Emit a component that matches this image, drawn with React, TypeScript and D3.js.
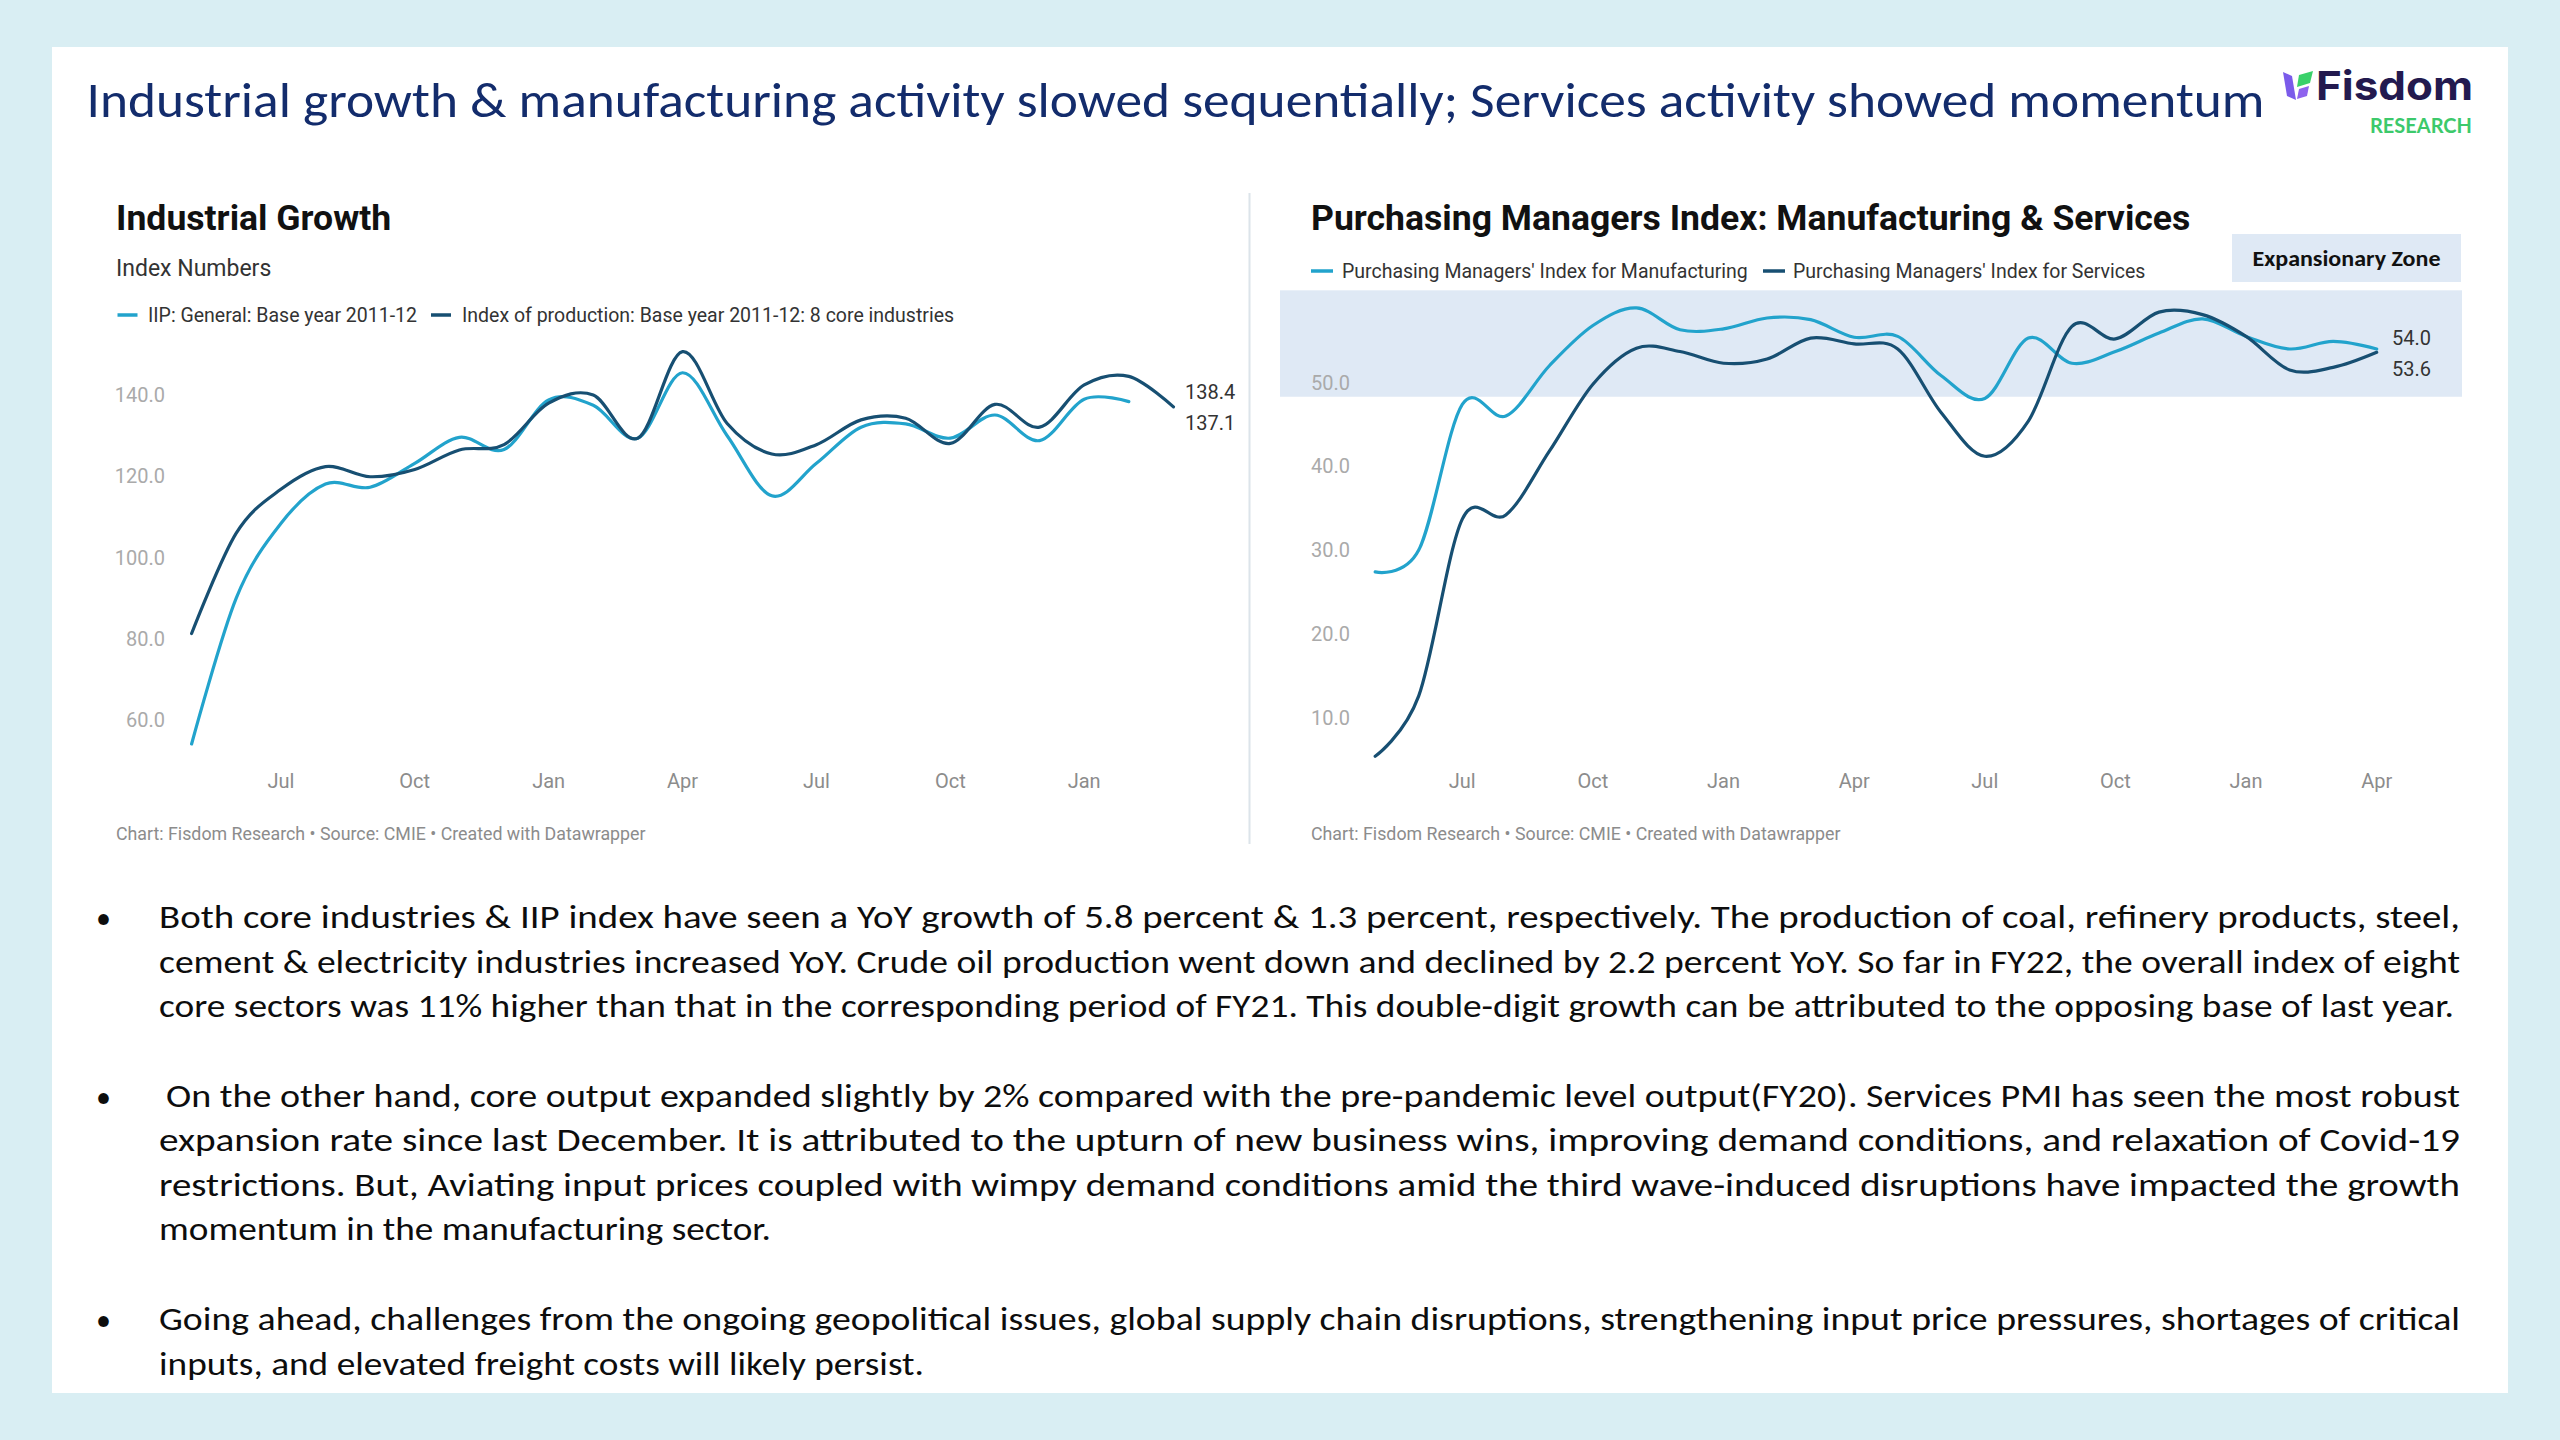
import React from 'react';
import * as d3 from 'd3';

// ---------- DATA ----------
// Left chart: Apr 2020 .. (index 0 = Apr 2020)
const iipValues = [54.1, 90.0, 108.4, 118.1, 117.3, 123.2, 129.6, 126.6, 138.8, 137.5, 129.4, 145.5, 130.0, 115.2, 123.2, 132.1, 132.9, 129.4, 135.1, 128.8, 139.0, 138.4];
const coreValues = [81.3, 106.0, 116.8, 122.4, 119.9, 121.7, 126.5, 127.8, 138.0, 140.0, 129.4, 150.7, 133.0, 125.5, 127.8, 133.9, 134.3, 128.1, 137.7, 132.1, 142.5, 144.6, 137.1];
const leftTickIdx = [2, 5, 8, 11, 14, 17, 20];
const leftTickLabels = ['Jul', 'Oct', 'Jan', 'Apr', 'Jul', 'Oct', 'Jan'];
const leftYTicks = [60, 80, 100, 120, 140];
const leftSeriesNames = ['IIP: General: Base year 2011-12', 'Index of production: Base year 2011-12: 8 core industries'];

// Right chart: Apr 2020 .. Mar 2022
const pmiMfg = [27.4, 30.0, 47.4, 46.0, 52.0, 56.8, 58.9, 56.3, 56.4, 57.7, 57.5, 55.4, 55.5, 50.8, 48.1, 55.3, 52.3, 53.7, 55.9, 57.6, 55.5, 54.0, 54.9, 54.0];
const pmiSvc = [5.4, 12.6, 33.7, 34.2, 41.8, 49.8, 54.1, 53.7, 52.3, 52.8, 55.3, 54.6, 54.0, 46.4, 41.2, 45.4, 56.7, 55.2, 58.4, 58.1, 55.5, 51.5, 51.8, 53.6];
const rightTickIdx = [2, 5, 8, 11, 14, 17, 20, 23];
const rightTickLabels = ['Jul', 'Oct', 'Jan', 'Apr', 'Jul', 'Oct', 'Jan', 'Apr'];
const rightYTicks = [10, 20, 30, 40, 50];
const rightSeriesNames = ["Purchasing Managers' Index for Manufacturing", "Purchasing Managers' Index for Services"];
const expansionBand = [48.3, 61.0];

const mainTitle = 'Industrial growth & manufacturing activity slowed sequentially; Services activity showed momentum';
const footerText = 'Chart: Fisdom Research \u2022 Source: CMIE \u2022 Created with Datawrapper';

const bullets: { lines: string[]; widths: number[]; starts: number[] }[] = [
  {
    lines: [
      'Both core industries & IIP index have seen a YoY growth of 5.8 percent & 1.3 percent, respectively. The production of coal, refinery products, steel,',
      'cement & electricity industries increased YoY. Crude oil production went down and declined by 2.2 percent YoY. So far in FY22, the overall index of eight',
      'core sectors was 11% higher than that in the corresponding period of FY21. This double-digit growth can be attributed to the opposing base of last year.',
    ],
    widths: [2301, 2301, 2295],
    starts: [159, 159, 159],
  },
  {
    lines: [
      'On the other hand, core output expanded slightly by 2% compared with the pre-pandemic level output(FY20). Services PMI has seen the most robust',
      'expansion rate since last December. It is attributed to the upturn of new business wins, improving demand conditions, and relaxation of Covid-19',
      'restrictions. But, Aviating input prices coupled with wimpy demand conditions amid the third wave-induced disruptions have impacted the growth',
      'momentum in the manufacturing sector.',
    ],
    widths: [2294, 2301, 2301, 612],
    starts: [166, 159, 159, 159],
  },
  {
    lines: [
      'Going ahead, challenges from the ongoing geopolitical issues, global supply chain disruptions, strengthening input price pressures, shortages of critical',
      'inputs, and elevated freight costs will likely persist.',
    ],
    widths: [2301, 765],
    starts: [159, 159],
  },
];

const LIGHT = '#22a3cc';
const DARK = '#174f72';
const CHART_FONT = 'Roboto, "Noto Sans", sans-serif';
const BODY_FONT = 'Carlito, Lato, "Open Sans", sans-serif';

export default function App() {
  // left scales
  const xL = d3.scaleLinear().domain([0, 22]).range([191.6, 191.6 + 44.63 * 22]);
  const yL = d3.scaleLinear().domain([60, 140]).range([720.0, 395.1]);
  // right scales
  const xR = d3.scaleLinear().domain([0, 23]).range([1375.2, 2376.7]);
  const yR = d3.scaleLinear().domain([10, 50]).range([717.7, 382.5]);

  const curve = d3.curveCatmullRom.alpha(0);
  const lineL = d3.line<number>().x((_, i) => xL(i)).y((d) => yL(d)).curve(curve);
  const lineR = d3.line<number>().x((_, i) => xR(i)).y((d) => yR(d)).curve(curve);

  const lastIip = iipValues[iipValues.length - 1];
  const lastCore = coreValues[coreValues.length - 1];
  const lastMfg = pmiMfg[pmiMfg.length - 1];
  const lastSvc = pmiSvc[pmiSvc.length - 1];

  const bodyLineH = 44.5;
  const bulletTops = [928, 1106.5, 1330];

  return (
    <div style={{ position: 'absolute', left: 0, top: 0, width: 2560, height: 1440 }}>
      <svg width={2560} height={1440} viewBox="0 0 2560 1440" style={{ display: 'block' }}>
        <rect x={0} y={0} width={2560} height={1440} fill="#d9eef3" />
        <rect x={52} y={47} width={2456} height={1346} fill="#ffffff" />

        {/* Main title */}
        <text x={86.5} y={117} fontFamily={BODY_FONT} fontSize={50} fill="#132c6c" textLength={2178} lengthAdjust="spacingAndGlyphs">
          {mainTitle}
        </text>

        {/* Logo */}
        <g>
          <path d="M2283,72 L2292,76 L2296,100 L2287,96 Z" fill="#7b5bea" />
          <path d="M2299,75 L2313,71 L2310,83 L2297,87 Z" fill="#3ad16a" />
          <path d="M2299,89 L2309,86 L2307,96 L2297,99 Z" fill="#8e63ee" />
          <text x={2316} y={100} fontFamily="Inter, Lato, sans-serif" fontWeight={700} fontSize={40} fill="#231a4f" textLength={157} lengthAdjust="spacingAndGlyphs">Fisdom</text>
          <text x={2370} y={133} fontFamily="Lato, sans-serif" fontWeight={700} fontSize={21} fill="#3cc96b" textLength={102} lengthAdjust="spacingAndGlyphs">RESEARCH</text>
        </g>

        {/* Divider */}
        <line x1={1249.5} x2={1249.5} y1={193} y2={844} stroke="#dce4ea" strokeWidth={2} />

        {/* ---------- LEFT CHART ---------- */}
        <g fontFamily={CHART_FONT}>
          <text x={116} y={230} fontSize={35.6} fontWeight={700} fill="#111">Industrial Growth</text>
          <text x={116} y={276} fontSize={23} fill="#333">Index Numbers</text>
          {/* legend */}
          <line x1={117.5} x2={137.5} y1={315} y2={315} stroke={LIGHT} strokeWidth={3.5} />
          <text x={148} y={315} dy="0.35em" fontSize={19.5} fill="#333">{leftSeriesNames[0]}</text>
          <line x1={431} x2={451} y1={315} y2={315} stroke={DARK} strokeWidth={3.5} />
          <text x={462} y={315} dy="0.35em" fontSize={19.5} fill="#333">{leftSeriesNames[1]}</text>

          {leftYTicks.map((t) => (
            <text key={t} x={165} y={yL(t)} dy="0.35em" textAnchor="end" fontSize={20} fill="#aaaaaa">{t.toFixed(1)}</text>
          ))}
          {leftTickIdx.map((idx, k) => (
            <text key={k} x={xL(idx)} y={780.5} dy="0.35em" textAnchor="middle" fontSize={20} fill="#8c8c8c">{leftTickLabels[k]}</text>
          ))}

          <path d={lineL(iipValues) || ''} fill="none" stroke={LIGHT} strokeWidth={3.2} strokeLinejoin="round" strokeLinecap="round" />
          <path d={lineL(coreValues) || ''} fill="none" stroke={DARK} strokeWidth={3.2} strokeLinejoin="round" strokeLinecap="round" />

          <text x={1185} y={yL(lastIip) - 9.6} dy="0.35em" fontSize={20} fill="#333">{lastIip.toFixed(1)}</text>
          <text x={1185} y={yL(lastCore) + 16} dy="0.35em" fontSize={20} fill="#333">{lastCore.toFixed(1)}</text>

          <text x={116} y={834} dy="0.35em" fontSize={17.8} fill="#8c8c8c">{footerText}</text>
        </g>

        {/* ---------- RIGHT CHART ---------- */}
        <g fontFamily={CHART_FONT}>
          <rect x={1280} y={yR(expansionBand[1])} width={1182} height={yR(expansionBand[0]) - yR(expansionBand[1])} fill="#dfe9f5" />
          <rect x={2232} y={234} width={229} height={48} fill="#dfe9f5" />
          <text x={2346.5} y={258} dy="0.35em" textAnchor="middle" fontFamily={BODY_FONT} fontWeight={700} fontSize={23} fill="#111" textLength={188} lengthAdjust="spacingAndGlyphs">Expansionary Zone</text>

          <text x={1311} y={230} fontSize={35.6} fontWeight={700} fill="#111">Purchasing Managers Index: Manufacturing &amp; Services</text>
          <line x1={1311} x2={1333} y1={271} y2={271} stroke={LIGHT} strokeWidth={3.5} />
          <text x={1342} y={271} dy="0.35em" fontSize={19.5} fill="#333">{rightSeriesNames[0]}</text>
          <line x1={1763} x2={1785} y1={271} y2={271} stroke={DARK} strokeWidth={3.5} />
          <text x={1793} y={271} dy="0.35em" fontSize={19.5} fill="#333">{rightSeriesNames[1]}</text>

          {rightYTicks.map((t) => (
            <text key={t} x={1311} y={yR(t)} dy="0.35em" textAnchor="start" fontSize={20} fill="#aaaaaa">{t.toFixed(1)}</text>
          ))}
          {rightTickIdx.map((idx, k) => (
            <text key={k} x={xR(idx)} y={780.5} dy="0.35em" textAnchor="middle" fontSize={20} fill="#8c8c8c">{rightTickLabels[k]}</text>
          ))}

          <path d={lineR(pmiMfg) || ''} fill="none" stroke={LIGHT} strokeWidth={3.2} strokeLinejoin="round" strokeLinecap="round" />
          <path d={lineR(pmiSvc) || ''} fill="none" stroke={DARK} strokeWidth={3.2} strokeLinejoin="round" strokeLinecap="round" />

          <text x={2392} y={yR(lastMfg) - 11} dy="0.35em" fontSize={20} fill="#333">{lastMfg.toFixed(1)}</text>
          <text x={2392} y={yR(lastSvc) + 17} dy="0.35em" fontSize={20} fill="#333">{lastSvc.toFixed(1)}</text>

          <text x={1311} y={834} dy="0.35em" fontSize={17.8} fill="#8c8c8c">{footerText}</text>
        </g>

        {/* ---------- BODY TEXT ---------- */}
        <g fontFamily={BODY_FONT} fontSize={33} fill="#0d0d0d">
          {bullets.map((b, bi) => (
            <g key={bi}>
              <text x={96} y={bulletTops[bi]} fontSize={30}>{'\u2022'}</text>
              {b.lines.map((ln, li) => (
                <text key={li} x={b.starts[li]} y={bulletTops[bi] + li * bodyLineH} textLength={b.widths[li]} lengthAdjust="spacingAndGlyphs">
                  {ln}
                </text>
              ))}
            </g>
          ))}
        </g>
      </svg>
    </div>
  );
}
